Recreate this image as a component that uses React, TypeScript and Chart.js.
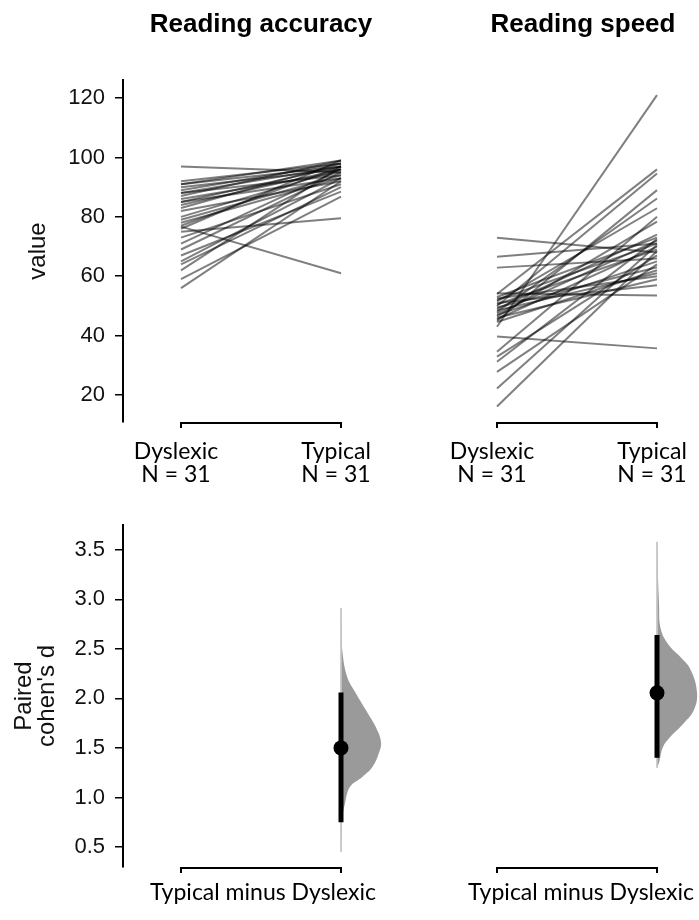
import React, { useEffect, useRef } from 'react';
import { Chart, registerables } from 'chart.js';

Chart.register(...registerables);

// ---------- data ----------
const groups = ['Dyslexic', 'Typical'];
const groupN = [31, 31];
const panelTitles = ['Reading accuracy', 'Reading speed'];
const deltaLabel = 'Typical minus Dyslexic';
const topYLabel = 'value';
const bottomYLabel = ['Paired', "cohen's d"];

const topTicks = [20, 40, 60, 80, 100, 120];
const bottomTicks = [0.5, 1.0, 1.5, 2.0, 2.5, 3.0, 3.5];

const accDyslexic = [97, 92, 91, 91, 90, 89, 88, 88, 87, 86, 85, 85, 84, 83, 82, 80, 79, 78, 77, 76.7, 76, 75, 73, 71, 69, 67, 65, 64, 62, 59, 56];
const accTypical = [95, 98, 97, 99, 96, 98, 94, 97, 99, 95, 93, 97, 96, 98, 92, 96, 94, 93, 97, 61, 99, 79.5, 91, 96, 95, 88.5, 93, 90, 97, 86.8, 92];

const spdDyslexic = [73, 66.6, 62.9, 54.3, 54, 53, 52.5, 52, 51.5, 51, 50.5, 50, 49.5, 49, 48.5, 48, 47.5, 47, 46.5, 46, 45.5, 45, 44.6, 43, 39.7, 34.6, 32.9, 31.2, 27.8, 22.2, 16.1];
const spdTypical = [68, 71, 66, 53.5, 96, 73, 60, 71, 82.9, 57, 69, 94.6, 63, 74, 61, 86.2, 72, 65, 78.4, 59, 70, 89, 62, 121, 35.7, 80, 67, 72.5, 64, 70.5, 68.5];

const accEffect = 1.5;
const accCI = [0.75, 2.06];
const spdEffect = 2.056;
const spdCI = [1.4, 2.64];

// bootstrap distribution outlines: effect-size values and relative density
const accDistValues = [2.91, 2.7, 2.49, 2.22, 2.06, 1.85, 1.71, 1.56, 1.45, 1.31, 1.21, 1.11, 0.94, 0.77, 0.45];
const accDistDensity = [0, 0.008, 0.03, 0.15, 0.36, 0.67, 0.87, 1, 0.95, 0.79, 0.54, 0.23, 0.1, 0.03, 0];
const spdDistValues = [3.58, 2.96, 2.69, 2.52, 2.42, 2.29, 2.06, 1.88, 1.75, 1.61, 1.51, 1.35, 1.3];
const spdDistDensity = [0, 0.05, 0.1, 0.33, 0.58, 0.84, 1, 0.92, 0.67, 0.33, 0.15, 0.05, 0];

// ---------- styling ----------
const SANS = "'Liberation Sans', Arial, sans-serif";
const LABEL_FONT = "Lato, 'Open Sans', sans-serif";
const X_MIN = -0.3625;
const VIOLIN_WIDTH = 0.25;

const xAxisLine = {
  id: 'xAxisLine',
  afterDraw(chart: any) {
    const xs = chart.scales.x;
    const ctx = chart.ctx;
    const y = xs.top + 1;
    ctx.save();
    ctx.strokeStyle = '#000';
    ctx.lineWidth = 2;
    ctx.beginPath();
    ctx.moveTo(xs.getPixelForValue(0) - 1, y);
    ctx.lineTo(xs.getPixelForValue(1) + 1, y);
    ctx.stroke();
    ctx.restore();
  },
};

function yScale(showY: boolean, min: number, max: number, ticks: number[], title: any, titlePad: number, titleLH: number, fmt: (v: number) => string) {
  return {
    type: 'linear',
    display: showY,
    min,
    max,
    afterBuildTicks: (s: any) => {
      s.ticks = ticks.map((v) => ({ value: v }));
    },
    afterFit: (s: any) => {
      s.width = showY ? 123 : 0;
    },
    border: { display: true, color: '#000', width: 2 },
    grid: { drawOnChartArea: false, drawTicks: true, tickLength: 8, color: '#000', lineWidth: 1.5 },
    ticks: { padding: 10, color: '#111', font: { family: SANS, size: 22 }, callback: (v: any) => fmt(Number(v)) },
    title: {
      display: true,
      text: title,
      color: '#111',
      font: { family: SANS, size: 24, lineHeight: titleLH },
      padding: { top: titlePad, bottom: 0 },
    },
  };
}

function topConfig(dys: number[], typ: number[], title: string, showY: boolean, xMax: number) {
  const datasets = dys.map((d, i) => ({
    type: 'line',
    data: [
      { x: 0, y: d },
      { x: 1, y: typ[i] },
    ],
    borderColor: 'rgba(0,0,0,0.5)',
    borderWidth: 2,
    pointRadius: 0,
    fill: false,
  }));
  return {
    type: 'line',
    data: { datasets },
    options: {
      responsive: false,
      animation: false,
      events: [],
      layout: { autoPadding: false, padding: 0 },
      plugins: {
        legend: { display: false },
        tooltip: { enabled: false },
        title: {
          display: true,
          text: title,
          color: '#000',
          font: { family: SANS, size: 26, weight: 'bold', lineHeight: 1.2 },
          padding: { top: 9, bottom: 39.8 },
        },
      },
      scales: {
        x: {
          type: 'linear',
          min: X_MIN,
          max: xMax,
          afterBuildTicks: (s: any) => {
            s.ticks = [{ value: 0 }, { value: 1 }];
          },
          afterFit: (s: any) => {
            s.height = 78;
          },
          border: { display: false },
          grid: { drawOnChartArea: false, drawTicks: true, tickLength: 6, color: '#000', lineWidth: 2 },
          ticks: {
            autoSkip: false,
            maxRotation: 0,
            padding: 13,
            labelOffset: -5,
            color: '#000',
            font: { family: LABEL_FONT, size: 23, lineHeight: 0.96 },
            callback: (v: any) => [groups[Number(v)], `N = ${groupN[Number(v)]}`],
          },
        },
        y: yScale(showY, 10.9, 126.1, topTicks, topYLabel, 24, 1.2, (v) => String(v)),
      },
    },
    plugins: [xAxisLine],
  };
}

function bottomConfig(effect: number, ci: number[], distV: number[], distD: number[], showY: boolean, xMax: number, labelOffset: number) {
  const violin = distV.map((v, i) => ({ x: 1 + distD[i] * VIOLIN_WIDTH, y: v }));
  const spine = [
    { x: 1, y: distV[0] },
    { x: 1, y: distV[distV.length - 1] },
  ];
  return {
    type: 'line',
    data: {
      datasets: [
        { type: 'scatter', data: [{ x: 1, y: effect }], pointRadius: 7.5, backgroundColor: '#000', borderWidth: 0, order: 0 },
        {
          type: 'line',
          data: [
            { x: 1, y: ci[0] },
            { x: 1, y: ci[1] },
          ],
          borderColor: '#000',
          borderWidth: 5,
          pointRadius: 0,
          fill: false,
          order: 1,
        },
        { type: 'line', data: spine, borderColor: '#c4c4c4', borderWidth: 1, pointRadius: 0, fill: false, order: 2 },
        {
          type: 'line',
          data: violin,
          borderColor: 'rgba(0,0,0,0)',
          borderWidth: 0,
          backgroundColor: '#9a9a9a',
          fill: 'shape',
          tension: 0.4,
          pointRadius: 0,
          order: 3,
        },
      ],
    },
    options: {
      responsive: false,
      animation: false,
      events: [],
      layout: { autoPadding: false, padding: { top: 25, left: 0, right: 0, bottom: 0 } },
      plugins: { legend: { display: false }, tooltip: { enabled: false }, title: { display: false } },
      scales: {
        x: {
          type: 'linear',
          min: X_MIN,
          max: xMax,
          afterBuildTicks: (s: any) => {
            s.ticks = [{ value: 0 }, { value: 0.5 }, { value: 1 }];
          },
          afterFit: (s: any) => {
            s.height = 53;
          },
          border: { display: false },
          grid: {
            drawOnChartArea: false,
            drawTicks: true,
            tickLength: 6,
            lineWidth: 2,
            color: (c: any) => (c.tick && c.tick.value === 0.5 ? 'rgba(0,0,0,0)' : '#000'),
          },
          ticks: {
            autoSkip: false,
            maxRotation: 0,
            padding: 9,
            labelOffset,
            color: '#000',
            font: { family: LABEL_FONT, size: 23, lineHeight: 0.96 },
            callback: (v: any) => (Number(v) === 0.5 ? deltaLabel : ''),
          },
        },
        y: yScale(showY, 0.298, 3.75, bottomTicks, bottomYLabel, 12.5, 0.96, (v) => v.toFixed(1)),
      },
    },
    plugins: [xAxisLine],
  };
}

function ChartCanvas({ config, left, top, width, height }: any) {
  const ref = useRef<HTMLCanvasElement | null>(null);
  useEffect(() => {
    if (!ref.current) return;
    const chart = new Chart(ref.current, config);
    return () => chart.destroy();
  }, [config]);
  return (
    <canvas
      ref={ref}
      width={width}
      height={height}
      style={{ position: 'absolute', left, top, width, height }}
    />
  );
}

const cfgTL = topConfig(accDyslexic, accTypical, panelTitles[0], true, X_MIN + 399 / 160);
const cfgTR = topConfig(spdDyslexic, spdTypical, panelTitles[1], false, X_MIN + 288 / 160);
const cfgBL = bottomConfig(accEffect, accCI, accDistValues, accDistDensity, true, X_MIN + 399 / 160, 2);
const cfgBR = bottomConfig(spdEffect, spdCI, spdDistValues, spdDistDensity, false, X_MIN + 288 / 160, 4);

export default function App() {
  return (
    <div
      style={{
        position: 'absolute',
        left: 0,
        top: 0,
        width: 699,
        height: 920,
        overflow: 'hidden',
        background: '#fff',
      }}
    >
      <ChartCanvas config={cfgTL} left={0} top={0} width={522} height={500} />
      <ChartCanvas config={cfgTR} left={439} top={0} width={288} height={500} />
      <ChartCanvas config={cfgBL} left={0} top={500} width={522} height={420} />
      <ChartCanvas config={cfgBR} left={439} top={500} width={288} height={420} />
    </div>
  );
}
